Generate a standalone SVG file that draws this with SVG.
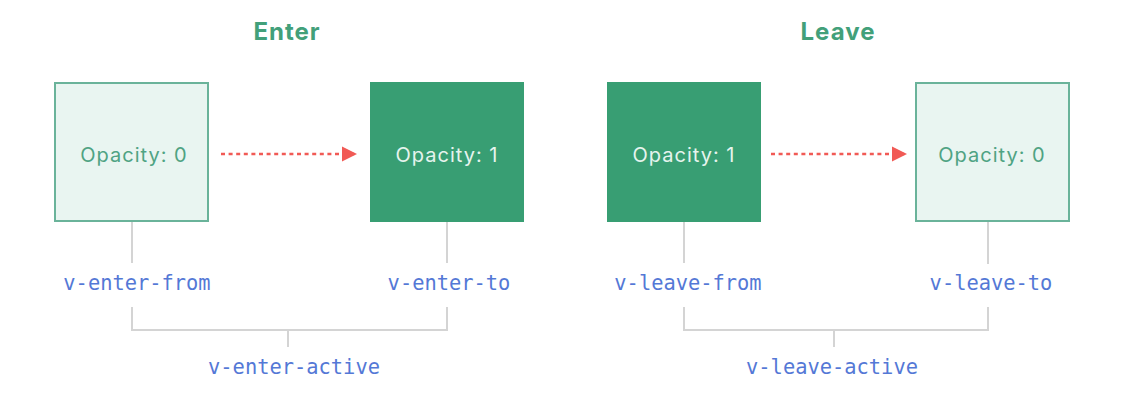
<svg xmlns="http://www.w3.org/2000/svg" width="1128" height="401" viewBox="0 0 1128 401">
<style>
.title{font-family:"Inter","Liberation Sans",sans-serif;font-weight:700;font-size:24px;letter-spacing:1px;fill:#42a07a;text-anchor:middle}
.light rect{fill:#e9f5f1;stroke:#6ab39a;stroke-width:2}
.dark rect{fill:#389e73}
.light text{fill:#4fa383}
.dark text{fill:#e6f4ee}
.node text{font-family:"Inter","Liberation Sans",sans-serif;font-size:20px;letter-spacing:1px;text-anchor:middle}
.lbl{font-family:"DejaVu Sans Mono","Liberation Mono",monospace;font-size:20.4px;fill:#5478d6;text-anchor:middle}
.ln{stroke:#d4d4d4;stroke-width:2;fill:none}
.arr{stroke:#f15a55;stroke-width:2.5;stroke-dasharray:4 3.6;fill:none}
</style>
<defs>
<marker id="ah" viewBox="0 0 10 10" refX="10" refY="5" markerWidth="15" markerHeight="16" markerUnits="userSpaceOnUse" orient="auto">
<path d="M0,0 L10,5 L0,10 z" fill="#f15a55"/>
</marker>
</defs>
<rect width="1128" height="401" fill="#ffffff"/>
<text class="title" x="287" y="40">Enter</text>
<text class="title" x="838" y="40">Leave</text>
<g id="enter-from" class="node light"><rect x="55" y="83" width="153" height="138"/><text x="134" y="162">Opacity: 0</text></g>
<g id="enter-to" class="node dark"><rect x="370" y="82" width="154" height="140"/><text x="447" y="162">Opacity: 1</text></g>
<g id="leave-from" class="node dark"><rect x="607" y="82" width="154" height="140"/><text x="684" y="162">Opacity: 1</text></g>
<g id="leave-to" class="node light"><rect x="916" y="83" width="153" height="138"/><text x="992" y="162">Opacity: 0</text></g>
<g id="labels">
<text class="lbl" x="137" y="290">v-enter-from</text>
<text class="lbl" x="449" y="290">v-enter-to</text>
<text class="lbl" x="294" y="374">v-enter-active</text>
<text class="lbl" x="688" y="290">v-leave-from</text>
<text class="lbl" x="991" y="290">v-leave-to</text>
<text class="lbl" x="832" y="374">v-leave-active</text>
</g>
<g id="connectors">
<line class="arr" x1="221" y1="154" x2="357" y2="154" marker-end="url(#ah)"/>
<line class="arr" x1="771" y1="154" x2="907" y2="154" marker-end="url(#ah)"/>
<line class="ln" x1="132" y1="222" x2="132" y2="263"/>
<line class="ln" x1="447" y1="222" x2="447" y2="263"/>
<path class="ln" d="M132,307 V330 H447 V307 M288,330 V347"/>
<line class="ln" x1="684" y1="222" x2="684" y2="263"/>
<line class="ln" x1="988" y1="222" x2="988" y2="264"/>
<path class="ln" d="M684,307 V330 H988 V307 M834,330 V347"/>
</g>
</svg>
